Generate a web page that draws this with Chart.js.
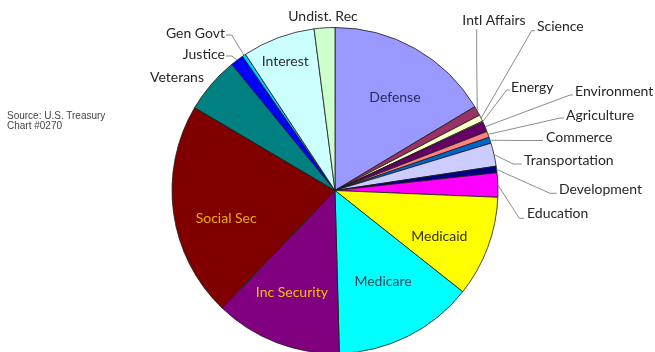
<!DOCTYPE html>
<html>
<head>
<meta charset="utf-8">
<title>Federal Outlays by Function</title>
<script src="https://cdn.jsdelivr.net/npm/chart.js@4/dist/chart.umd.min.js"></script>
<style>
  html, body { margin: 0; padding: 0; background: #fff; overflow: hidden; }
  #wrap { position: relative; width: 655px; height: 352px; }
  .source {
    position: absolute; left: 7px; top: 111px;
    font: 10px "Liberation Sans", Arial, sans-serif; line-height: 10px; color: #444;
  }
</style>
</head>
<body>
<div id="wrap">
  <canvas id="outlays" width="655" height="352"></canvas>
  <div class="source">Source: U.S. Treasury<br>Chart #0270</div>
</div>
<script>
// Functions of the budget, clockwise from 12 o'clock
const categories = [
  "Defense", "Intl Affairs", "Science", "Energy", "Environment", "Agriculture",
  "Commerce", "Transportation", "Development", "Education", "Medicaid", "Medicare",
  "Inc Security", "Social Sec", "Veterans", "Justice", "Gen Govt", "Interest", "Undist. Rec"
];
// Share of total outlays, percent
const shares = [
  16.4, 0.95, 0.65, 0.1, 1.0, 0.6,
  0.6, 2.3, 0.65, 2.4, 10.0, 13.9,
  12.6, 21.3, 5.6, 1.3, 0.35, 7.2, 2.05
];
const sliceColors = [
  "#9999FF", "#993366", "#FFFFCC", "#CCFFFF", "#660066", "#FF8080",
  "#0066CC", "#CCCCFF", "#000080", "#FF00FF", "#FFFF00", "#00FFFF",
  "#800080", "#800000", "#008080", "#0000FF", "#00CCFF", "#CCFFFF", "#CCFFCC"
];

const labelFont = '14px Lato, "Open Sans", sans-serif';

// labels sitting inside their slice: radius fraction + nudge off the mid angle (deg)
const insideLabels = {
  "Defense":      { r: 0.68, turn: 3.2,  color: "#2b2b5e" },
  "Interest":     { r: 0.85, turn: -0.7, color: "#2e2e2e" },
  "Medicaid":     { r: 0.70, turn: 3.5,  color: "#333300" },
  "Medicare":     { r: 0.63, turn: -1.3, color: "#1f4a55" },
  "Inc Security": { r: 0.68, turn: 1.75, color: "#f5c000" },
  "Social Sec":   { r: 0.69, turn: -6.8, color: "#e8b000" }
};

// labels outside the pie, with an optional leader (elbow, then text end)
const outsideLabels = {
  "Undist. Rec":    { x: 323, y: 16, align: "center" },
  "Intl Affairs":   { x: 494, y: 20, align: "center", line: [[476.7, 60], [476.7, 29]] },
  "Science":        { x: 537, y: 26, align: "left",   line: [[531.7, 30.7], [535, 30.7]] },
  "Energy":         { x: 511, y: 87, align: "left",   line: [[506.7, 90], [509.5, 90]] },
  "Environment":    { x: 575, y: 91, align: "left",   line: [[570, 95], [573, 95]] },
  "Agriculture":    { x: 566, y: 115, align: "left",  line: [[560, 118], [564, 118]] },
  "Commerce":       { x: 546, y: 137, align: "left",  line: [[520, 140.5], [543, 140.5]] },
  "Transportation": { x: 524, y: 160, align: "left",  line: [[513.3, 164], [521.7, 164]] },
  "Development":    { x: 559, y: 189, align: "left",  line: [[550, 193.3], [556.7, 193.3]] },
  "Education":      { x: 527, y: 213, align: "left",  line: [[519.3, 218.3], [524, 218.3]] },
  "Gen Govt":       { x: 225, y: 33, align: "right",  line: [[231.7, 35], [226, 35]] },
  "Justice":        { x: 225, y: 54, align: "right",  line: [[232, 56], [226, 56]] },
  "Veterans":       { x: 177, y: 77, align: "center" }
};

const sliceLabels = {
  id: "sliceLabels",
  afterDatasetsDraw(chart) {
    const ctx = chart.ctx;
    const arcs = chart.getDatasetMeta(0).data;
    ctx.save();
    ctx.font = labelFont;
    ctx.textBaseline = "middle";
    arcs.forEach((arc, i) => {
      const name = categories[i];
      const mid = (arc.startAngle + arc.endAngle) / 2;
      const inner = insideLabels[name];
      if (inner) {
        const a = mid + inner.turn * Math.PI / 180;
        const r = arc.outerRadius * inner.r;
        ctx.fillStyle = inner.color;
        ctx.textAlign = "center";
        ctx.fillText(name, arc.x + Math.cos(a) * r, arc.y + Math.sin(a) * r);
        return;
      }
      const outer = outsideLabels[name];
      if (!outer) return;
      if (outer.line) {
        ctx.strokeStyle = "#8c8c8c";
        ctx.lineWidth = 1;
        ctx.beginPath();
        ctx.moveTo(arc.x + Math.cos(mid) * arc.outerRadius, arc.y + Math.sin(mid) * arc.outerRadius);
        outer.line.forEach(p => ctx.lineTo(p[0], p[1]));
        ctx.stroke();
      }
      ctx.fillStyle = "#262626";
      ctx.textAlign = outer.align;
      ctx.fillText(name, outer.x, outer.y);
    });
    ctx.restore();
  }
};

new Chart(document.getElementById("outlays"), {
  type: "pie",
  data: {
    labels: categories,
    datasets: [{
      data: shares,
      backgroundColor: sliceColors,
      borderColor: "#1a1a1a",
      borderWidth: 0.8,
      radius: 163
    }]
  },
  options: {
    responsive: false,
    animation: false,
    layout: { padding: { left: 15, top: 29, right: 0, bottom: 0 } },
    plugins: {
      legend: { display: false },
      tooltip: { enabled: false }
    }
  },
  plugins: [sliceLabels]
});
</script>
</body>
</html>
